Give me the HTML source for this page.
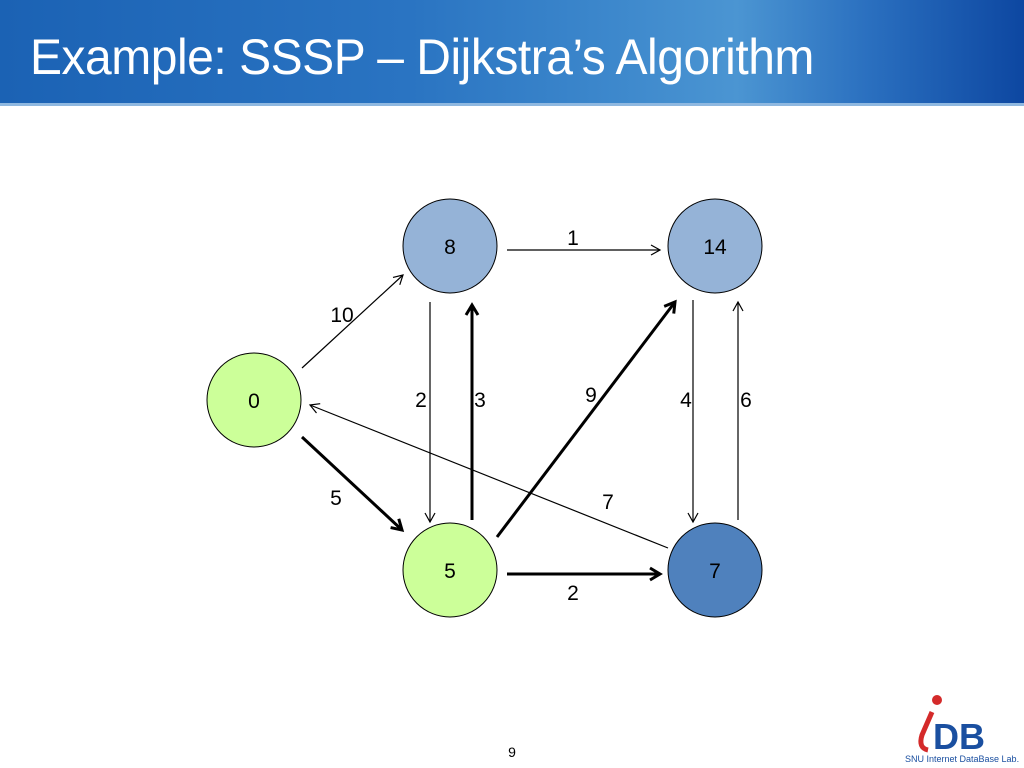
<!DOCTYPE html>
<html><head><meta charset="utf-8"><style>
body{margin:0;width:1024px;height:768px;background:#fff;overflow:hidden;position:relative;font-family:"Liberation Sans",sans-serif}
.hdr{position:absolute;left:0;top:0;width:1024px;height:103px;background:linear-gradient(90deg,#1b62b4 0%,#2a74c2 40%,#3d88cc 60%,#4b95d2 72%,#2a6fbf 85%,#0d47a1 100%);border-bottom:3px solid #8fb8e0}
.title{position:absolute;left:30px;top:29px;color:#fff;font-size:50px;line-height:57px;white-space:nowrap;transform:scaleX(0.96);transform-origin:left top;letter-spacing:-0.5px}
svg{position:absolute;left:0;top:0}
</style></head><body>
<div class="hdr"></div>
<div class="title">Example: SSSP – Dijkstra’s Algorithm</div>
<svg width="1024" height="768" font-family="Liberation Sans" font-size="21">
<defs>
<marker id="a" markerWidth="12" markerHeight="12" refX="10" refY="6" orient="auto" markerUnits="userSpaceOnUse"><path d="M1,1 L10,6 L1,11" fill="none" stroke="#000" stroke-width="1.2"/></marker>
<marker id="b" markerWidth="16" markerHeight="16" refX="12" refY="8" orient="auto" markerUnits="userSpaceOnUse"><path d="M2,2 L12,8 L2,14" fill="none" stroke="#000" stroke-width="3"/></marker>
</defs>
<g stroke="#000" stroke-width="1.2" fill="none" marker-end="url(#a)">
<line x1="302" y1="368" x2="403" y2="275"/>
<line x1="507" y1="250" x2="660" y2="250"/>
<line x1="430" y1="302" x2="430" y2="522"/>
<line x1="693" y1="300" x2="693" y2="522"/>
<line x1="738" y1="520" x2="738" y2="302"/>
<line x1="668" y1="548" x2="310" y2="405"/>
</g>
<g stroke="#000" stroke-width="3" fill="none" marker-end="url(#b)">
<line x1="302" y1="437" x2="402" y2="530"/>
<line x1="472" y1="520" x2="472" y2="305"/>
<line x1="497" y1="537" x2="675" y2="302"/>
<line x1="507" y1="574" x2="660" y2="574"/>
</g>
<g stroke="#000" stroke-width="1">
<circle cx="254" cy="400" r="47" fill="#ccff99"/>
<circle cx="450" cy="246" r="47" fill="#95b3d7"/>
<circle cx="715" cy="246" r="47" fill="#95b3d7"/>
<circle cx="450" cy="570" r="47" fill="#ccff99"/>
<circle cx="715" cy="570" r="47" fill="#4f81bd"/>
</g>
<g text-anchor="middle" fill="#000">
<text x="254" y="408">0</text><text x="450" y="254">8</text><text x="715" y="254">14</text><text x="450" y="578">5</text><text x="715" y="578">7</text>
<text x="342" y="322">10</text><text x="336" y="505">5</text><text x="573" y="245">1</text><text x="421" y="407">2</text><text x="480" y="407">3</text><text x="591" y="402">9</text><text x="686" y="407">4</text><text x="746" y="407">6</text><text x="608" y="509">7</text><text x="573" y="600">2</text>
<text x="512" y="757" font-size="14">9</text>
</g>
<g font-family="Liberation Sans" font-weight="bold">
<path d="M928 750 Q918 748 922 735 L932 712" stroke="#d42a2a" stroke-width="5" fill="none"/>
<circle cx="937" cy="700" r="5" fill="#d42a2a"/>
<text x="933" y="749" font-size="36" fill="#1a4fa0">DB</text>
<text x="905" y="762" font-size="9" fill="#1a4fa0" font-weight="normal">SNU Internet DataBase Lab.</text>
</g>
</svg>
</body></html>
